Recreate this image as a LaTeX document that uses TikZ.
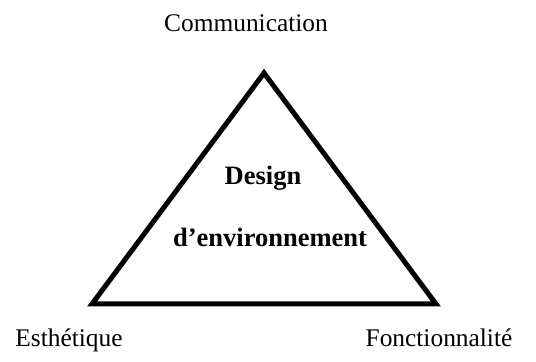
\documentclass[tikz,border=0pt]{standalone}
\usepackage{fontspec}
\setmainfont{Liberation Serif}
\usetikzlibrary{positioning}

\begin{document}
\begin{tikzpicture}[x=0.5pt, y=-0.5pt,
    pole/.style={font=\fontsize{12.7}{15}\selectfont, anchor=base, inner sep=0pt},
    centre/.style={font=\fontsize{13.25}{15}\selectfont\bfseries, anchor=base, inner sep=0pt}]
    \useasboundingbox (0,0) rectangle (536,362);
    % Triangle corners
    \coordinate (top) at (264,73);
    \coordinate (left) at (92,304);
    \coordinate (right) at (436,304);
    \draw [line width=2.5pt, line join=miter] (top) -- (left) -- (right) -- cycle;
    % Poles
    \node (com) [pole] at (246,32) {Communication};
    \node (esth) [pole] at (69,347) {Esthétique};
    \node (fonc) [pole] at (439,347) {Fonctionnalité};
    % Centre
    \node (design) [centre] at (263,185) {Design};
    \node (env) [centre] at (270,247) {d’environnement};
\end{tikzpicture}
\end{document}
